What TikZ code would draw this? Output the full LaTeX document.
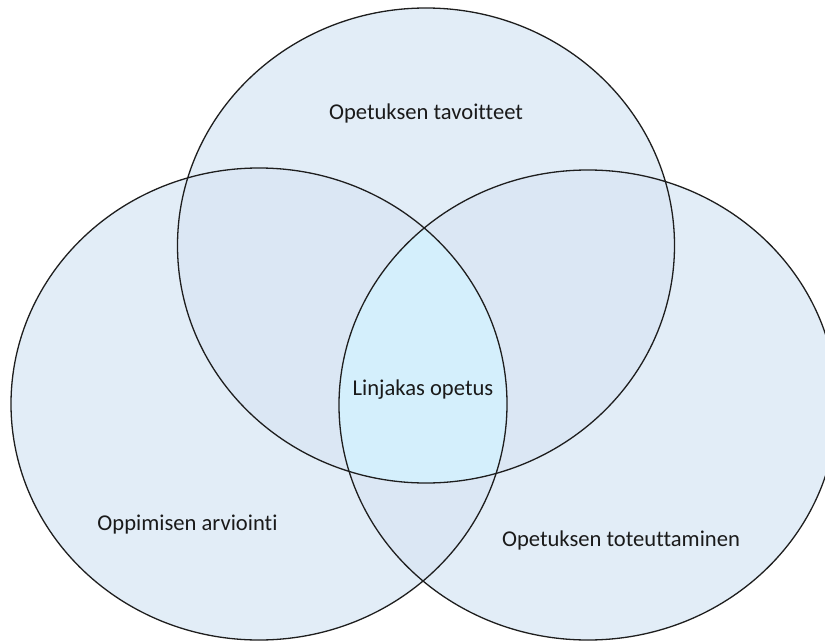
\documentclass[tikz,border=0pt]{standalone}
\usepackage{fontspec}
\setmainfont{Carlito}[Ligatures={NoCommon}]
\definecolor{one}{HTML}{E2EDF7}
\definecolor{two}{HTML}{DBE7F4}
\definecolor{three}{HTML}{D4EFFC}
\definecolor{edge}{HTML}{1E1E1E}
\definecolor{txt}{HTML}{1A1A1A}
\tikzset{
  lbl/.style={font=\fontsize{22.6}{26}\selectfont, text=txt, inner sep=0pt},
  rim/.style={draw=edge, line width=1.3pt}
}
\def\topE{(426,245.5) ellipse [x radius=248.5, y radius=237.5]}
\def\leftE{(259,404) ellipse [x radius=248, y radius=236]}
\def\rightE{(588,405) ellipse [x radius=249, y radius=235]}
\begin{document}
\begin{tikzpicture}[x=1pt,y=-1pt]
\useasboundingbox (0,0) rectangle (825,642);
\clip (0,0) rectangle (825,642);
\fill[one] \topE;
\fill[one] \leftE;
\fill[one] \rightE;
\begin{scope}
  \clip \topE;
  \fill[two] \leftE;
  \fill[two] \rightE;
\end{scope}
\begin{scope}
  \clip \leftE;
  \fill[two] \rightE;
\end{scope}
\begin{scope}
  \clip \topE;
  \clip \leftE;
  \fill[three] \rightE;
\end{scope}
\draw[rim] \topE;
\draw[rim] \leftE;
\draw[rim] \rightE;
\node[lbl] (goals) at (426,113) {Opetuksen tavoitteet};
\node[lbl] (core) at (423,390) {Linjakas opetus};
\node[lbl] (assess) at (187.5,525) {Oppimisen arviointi};
\node[lbl] (impl) at (621,540) {Opetuksen toteuttaminen};
\end{tikzpicture}
\end{document}
